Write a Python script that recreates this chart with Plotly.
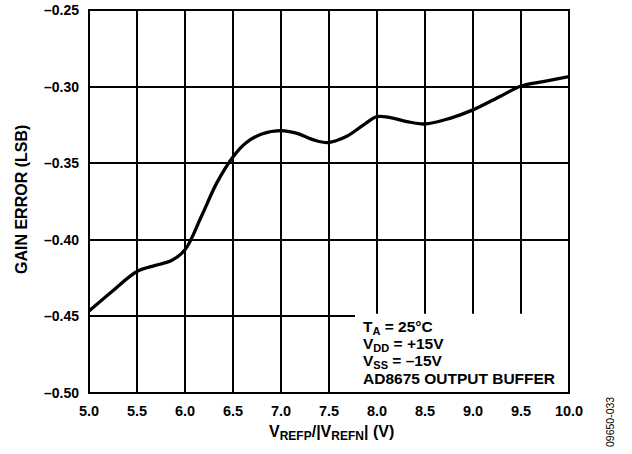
import plotly.graph_objects as go

# Data
v_ref = [5.0, 5.24, 5.5, 5.69, 5.86, 6.0, 6.17, 6.33, 6.49, 6.63, 6.8,
         7.0, 7.16, 7.34, 7.49, 7.68, 7.86, 8.0, 8.14, 8.31, 8.5, 8.76, 9.0, 9.28,
         9.5, 9.73, 10.0]
gain_error = [-0.4465, -0.4337, -0.4207, -0.4167, -0.4135, -0.4065, -0.3848,
              -0.3630, -0.3467, -0.3370, -0.3309, -0.3287,
              -0.3304, -0.3348, -0.3365, -0.3326, -0.3250, -0.3196, -0.3202,
              -0.3228, -0.3244, -0.3207, -0.3152, -0.3065, -0.2996, -0.2967,
              -0.2935]

x_ticks = [5.0, 5.5, 6.0, 6.5, 7.0, 7.5, 8.0, 8.5, 9.0, 9.5, 10.0]
x_ticktext = ["5.0", "5.5", "6.0", "6.5", "7.0", "7.5", "8.0", "8.5", "9.0", "9.5", "10.0"]
y_ticks = [-0.50, -0.45, -0.40, -0.35, -0.30, -0.25]
y_ticktext = ["–0.50", "–0.45", "–0.40", "–0.35", "–0.30", "–0.25"]

SUB = "<sub><span style='font-size:{}px'>{}</span></sub>"
conditions = ["T" + SUB.format(11, "A") + " = 25°C",
              "V" + SUB.format(11, "DD") + " = +15V",
              "V" + SUB.format(11, "SS") + " = –15V",
              "AD8675 OUTPUT BUFFER"]

FONT = "Liberation Sans, Arial, Helvetica, sans-serif"

fig = go.Figure()
fig.add_trace(go.Scatter(x=v_ref, y=gain_error, mode="lines",
                         line=dict(color="black", width=3.3, shape="spline", smoothing=1.0),
                         hoverinfo="skip", showlegend=False))

W, H = 632, 454
L, R, T, B = 89, 63, 10, 61
ph = H - T - B
pw = W - L - R

fig.update_layout(
    width=W, height=H,
    margin=dict(l=L, r=R, t=T, b=B, pad=0, autoexpand=False),
    paper_bgcolor="white", plot_bgcolor="white",
    showlegend=False,
    font=dict(family=FONT, color="black", size=14, weight=700),
    xaxis=dict(range=[5.0, 10.0], tickvals=x_ticks, ticktext=x_ticktext,
               showgrid=True, gridcolor="black", gridwidth=1.5,
               zeroline=False, showline=False, ticks="", automargin=False,
               ticklabelstandoff=7, ticklabeloverflow="allow",
               tickfont=dict(family=FONT, size=14.5, weight=700, color="black")),
    yaxis=dict(range=[-0.50, -0.25], tickvals=y_ticks, ticktext=y_ticktext,
               showgrid=True, gridcolor="black", gridwidth=1.5,
               zeroline=False, showline=False, ticks="", automargin=False,
               ticklabelstandoff=9, ticklabeloverflow="allow",
               tickfont=dict(family=FONT, size=14, weight=700, color="black")),
)

# white mask behind condition text
x0 = 5.0 + (355 - 89) / 96.0
y1 = -0.25 - (314 - 10) / 1533.3
fig.add_shape(type="rect", xref="x", yref="y", x0=x0, x1=10.0, y0=-0.5, y1=y1,
              fillcolor="white", line=dict(width=0), layer="above")
# plot frame
fig.add_shape(type="rect", xref="paper", yref="paper", x0=0, x1=1, y0=0, y1=1,
              line=dict(color="black", width=2), fillcolor="rgba(0,0,0,0)", layer="above")

def py(p):
    return (H - B - p) / ph

def px(p):
    return (p - L) / pw

for i, txt in enumerate(conditions):
    base_px = [327.5, 344.2, 361.2, 378.5][i]
    fig.add_annotation(text=txt, xref="paper", yref="paper",
                       x=px(361), y=py(base_px),
                       xanchor="left", yanchor="middle", showarrow=False,
                       font=dict(family=FONT, size=15.5, weight=700, color="black"))

# axis titles
fig.add_annotation(text="GAIN ERROR (LSB)", xref="paper", yref="paper",
                   x=px(21), y=py(200), textangle=-90,
                   xanchor="center", yanchor="middle", showarrow=False,
                   font=dict(family=FONT, size=16, weight=700, color="black"))
fig.add_annotation(text="V" + SUB.format(12, "REFP") + "/|V" + SUB.format(12, "REFN") + "| (V)",
                   xref="paper", yref="paper",
                   x=px(331), y=py(433), xanchor="center", yanchor="middle",
                   showarrow=False,
                   font=dict(family=FONT, size=16, weight=700, color="black"))
# figure code
fig.add_annotation(text="09650-033", xref="paper", yref="paper",
                   x=px(610), y=py(422), textangle=-90,
                   xanchor="center", yanchor="middle", showarrow=False,
                   font=dict(family=FONT, size=10.5, weight=400, color="black"))

fig.write_html("out.html", config={"displayModeBar": False},
               post_script="document.body.style.margin='0';document.body.style.overflow='hidden';")
